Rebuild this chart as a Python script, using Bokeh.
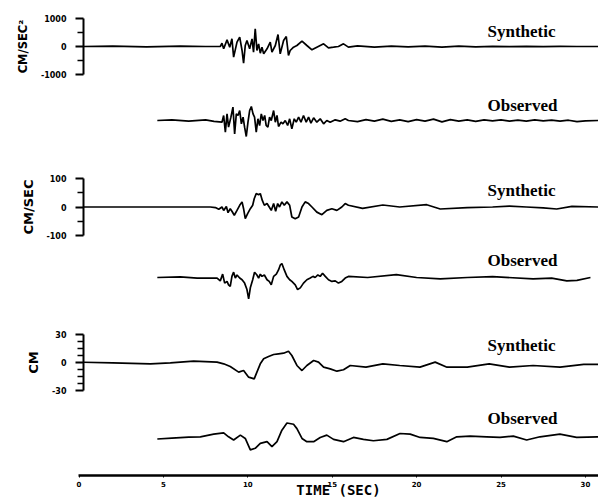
from bokeh.plotting import figure
from bokeh.layouts import column
from bokeh.models import Range1d, FixedTicker, Label
from bokeh.embed import file_html
from bokeh.resources import INLINE

# ---------------- data (time in s, amplitude in physical units) ----------------
accel_syn_t = [0.2, 2.0, 4.0, 6.0, 7.5, 8.37, 8.47, 8.57, 8.77, 8.93, 9.06, 9.16, 9.36, 9.52, 9.66,
               9.75, 9.85, 9.95, 10.11, 10.25, 10.34, 10.44, 10.54, 10.64, 10.74, 10.84, 10.94, 11.14,
               11.33, 11.43, 11.63, 11.79, 11.92, 12.12, 12.28, 12.41, 12.51, 12.71, 12.91, 13.21,
               13.50, 13.80, 14.09, 14.49, 14.78, 15.08, 15.37, 15.67, 15.96, 16.5, 17.5, 18.5, 19.5,
               20.5, 21.5, 22.5, 23.5, 24.5, 25.5, 26.5, 27.5, 28.5, 29.5, 30.8]
accel_syn_v = [0, 10, -10, 10, 0, 0, 119, -83, 238, -24, 274, -381, 155, 333, -143,
               -595, 36, 214, -83, 274, -202, 631, -143, 95, -238, -24, -262, -83,
               155, -202, 36, 428, -262, 214, 357, -321, -143, -24, 36, 190,
               36, -119, -24, 95, -48, -24, 0, 95, -24, 20, -20, 10, -10,
               15, -25, 10, -10, 5, -5, 5, -5, 5, 0, 0]

accel_obs_t = [4.64, 5.5, 6.5, 7.5, 8.0, 8.47, 8.57, 8.67, 8.77, 8.86, 9.0, 9.12, 9.22, 9.32, 9.42,
               9.52, 9.62, 9.72, 9.81, 9.91, 10.01, 10.11, 10.21, 10.31, 10.40, 10.50, 10.60, 10.70,
               10.80, 10.90, 11.0, 11.09, 11.19, 11.29, 11.39, 11.53, 11.63, 11.73, 11.82, 11.97,
               12.08, 12.22, 12.36, 12.48, 12.61, 12.75, 12.87, 13.01, 13.15, 13.30, 13.46, 13.60,
               13.74, 13.90, 14.09, 14.29, 14.49, 14.68, 14.88, 15.18, 15.47, 15.77, 15.96,
               16.5, 17.0, 17.5, 18.0, 18.5, 19.0, 19.5, 20.0, 20.5, 21.0, 21.5, 22.0, 22.5, 23.0,
               23.5, 24.0, 24.5, 25.0, 25.5, 26.0, 26.5, 27.0, 27.5, 28.0, 28.5, 29.0, 29.5, 30.0, 30.8]
accel_obs_v = [0, 20, -20, 20, -30, -60, 179, -417, 238, -238, 119, 476, -476, 238, 179,
               357, -119, 119, -238, -571, -60, 357, 500, 238, 119, -417, 60, -179,
               238, 0, 179, -179, -238, 119, 0, 357, -60, 179, -214, -60,
               -119, 0, -179, 60, -298, 60, -60, 119, -60, 179, -60, 119,
               -95, 95, -60, 60, -119, 0, -60, 24, -24, 60, 0,
               -40, 30, -20, 50, -30, 20, -40, 30, -20, 50, -50, 30, -20, 20,
               -30, 20, -10, 20, -20, 10, -20, 20, -10, 10, -20, 10, -40, -10, 0]

vel_syn_t = [0.2, 3.0, 6.0, 7.78, 8.08, 8.28, 8.47, 8.57, 8.73, 8.83, 8.96, 9.06, 9.20, 9.36, 9.52,
             9.66, 9.75, 9.85, 9.99, 10.15, 10.29, 10.38, 10.50, 10.64, 10.74, 10.86, 10.98, 11.14,
             11.27, 11.39, 11.53, 11.65, 11.77, 11.88, 12.02, 12.16, 12.32, 12.48, 12.61, 12.81,
             13.01, 13.21, 13.40, 13.60, 13.80, 14.09, 14.39, 14.68, 14.98, 15.28, 15.57, 15.77,
             15.96, 16.8, 18.0, 19.0, 20.6, 21.4, 23.0, 24.5, 25.5, 26.5, 27.5, 28.3, 29.2, 30.8]
vel_syn_v = [0, 0, 0, 0, -2, -8, 0, -12, 2, -20, -6, -15, -29, -12, 6,
             18, -6, -41, -23, -6, 6, 29, 47, 43, 47, 23, 6, 12,
             0, -12, 12, -15, 12, 0, 18, 6, 18, 6, -35, -41,
             -35, 0, 18, 12, 0, -18, -27, -12, -6, -12, 0, 12,
             6, -5, 7, 0, 8, -7, -2, 0, 3, 0, -3, -7, 2, 0]

vel_obs_t = [4.64, 6.0, 7.0, 8.18, 8.37, 8.51, 8.63, 8.77, 8.86, 8.96, 9.06, 9.16, 9.26, 9.36, 9.52,
             9.66, 9.81, 9.95, 10.05, 10.15, 10.29, 10.40, 10.54, 10.64, 10.74, 10.84, 10.98, 11.14,
             11.27, 11.39, 11.53, 11.69, 11.82, 11.92, 12.02, 12.16, 12.32, 12.48, 12.61, 12.81,
             12.95, 13.11, 13.30, 13.50, 13.70, 13.86, 13.99, 14.15, 14.29, 14.43, 14.59, 14.78,
             14.98, 15.18, 15.37, 15.57, 15.77, 15.96, 17.1, 18.8, 20.0, 21.4, 23.0, 24.5, 26.9,
             28.0, 28.9, 29.5, 30.3]
vel_obs_v = [0, 2, -2, -2, -12, 12, -20, -14, -26, -32, 4, 19, -2, 9, -2,
             -8, -20, -43, -76, -37, -8, 19, 9, -2, 12, 4, 9, -8,
             -14, -26, 4, 12, 27, 44, 50, 27, 4, -8, -14, -26,
             -43, -37, -20, -8, -2, 4, 0, 9, 4, 15, 4, -8,
             -14, -12, -20, -14, -2, 4, 0, 10, 0, -5, 0, 3, -5,
             -2, -12, -10, 0]

disp_syn_t = [0.2, 2.0, 4.23, 5.41, 6.79, 8.18, 8.57, 8.96, 9.46, 9.75, 10.05, 10.38, 10.54, 10.74,
              10.94, 11.23, 11.53, 11.82, 12.12, 12.41, 12.61, 12.91, 13.21, 13.50, 13.90, 14.19,
              14.49, 14.88, 15.28, 15.67, 16.07, 17.0, 18.0, 19.0, 20.2, 21.1, 21.8, 23.0, 24.3,
              25.5, 26.9, 28.5, 29.9, 30.8]
disp_syn_v = [0.3, -0.5, -1.4, -0.4, 1.4, 0.4, -1.4, -4.3, -10.3, -8.6, -15.7, -17.5, -10.3, -1.4,
              4.0, 6.4, 8.6, 9.3, 10.0, 12.1, 7.5, -3.2, -8.6, -3.2, 2.1, 0.4,
              -5.0, -6.8, -9.3, -7.8, -3.2, -5, -1.4, -3.2, -5, 0.4, -5, -5, -1.4,
              -5, -3.2, -5, -2, -2]

disp_obs_t = [4.64, 5.5, 6.5, 7.19, 7.98, 8.57, 8.86, 9.16, 9.56, 9.85, 10.15, 10.44, 10.74, 11.14,
              11.43, 11.73, 12.02, 12.32, 12.71, 12.91, 13.21, 13.50, 13.90, 14.29, 14.68, 15.08,
              15.67, 16.26, 16.85, 17.44, 18.24, 19.02, 19.62, 20.21, 20.99, 21.79, 22.38, 23.17,
              24.15, 24.94, 25.73, 26.52, 27.31, 28.49, 29.48, 30.8]
disp_obs_v = [-1, 0, 1, 1.4, 4.3, 5.7, 1.4, -2.1, 3.2, -0.4, -12.8, -11.1, -5.7, -3.9,
              -9.3, -3.9, 8.6, 16.4, 15.0, 10.3, -0.4, -3.9, -3.9, 0.7, 3.2, -1.4,
              -3.9, 0.7, -1.4, -2.9, -1.4, 5.0, 4.3, 0.7, -0.4, -3.9, 1.4, 2.1,
              1.4, 0.7, 2.1, -2.1, 1.4, 4.3, 0.7, 1.4]

time_ticks = [0, 5, 10, 15, 20, 25, 30]
trace_names = ["Synthetic", "Observed"]

# ---------------- layout helpers ----------------
W = 598
PX_PER_S = 16.88
T0_PX = 78.5          # pixel column of t = 0
LABEL_T = 24.2
TRACE_W = 1.7


def make_fig(height, top, bottom, yr, left_axis=False, bottom_axis=False):
    left = 78 if bottom_axis else 83
    x0 = (left - T0_PX) / PX_PER_S
    x1 = (W - T0_PX) / PX_PER_S
    p = figure(width=W, height=height, x_range=Range1d(x0, x1), y_range=Range1d(*yr),
               output_backend="svg", toolbar_location=None,
               x_axis_location="below" if bottom_axis else None,
               y_axis_location="left" if left_axis else None,
               min_border_left=left, min_border_right=0,
               min_border_top=top, min_border_bottom=bottom,
               frame_align=False)
    p.outline_line_color = None
    p.background_fill_color = "white"
    p.border_fill_color = "white"
    for g in p.grid:
        g.visible = False
    return p


def style_yaxis(p, lim, minors, labels, title, title_size, title_standoff):
    ax = p.yaxis[0]
    ax.ticker = FixedTicker(ticks=[-lim, 0, lim], minor_ticks=minors)
    ax.major_label_overrides = {-lim: labels[0], 0: labels[1], lim: labels[2]}
    ax.axis_line_color = "black"
    ax.axis_line_width = 2
    ax.major_tick_line_width = 2
    ax.minor_tick_line_width = 1.5
    ax.major_tick_out = 8
    ax.major_tick_in = 0
    ax.minor_tick_out = 6
    ax.minor_tick_in = 0
    ax.major_label_standoff = 9
    ax.major_label_text_font = "DejaVu Sans"
    ax.major_label_text_font_style = "bold"
    ax.major_label_text_font_size = "8px"
    ax.major_label_text_color = "black"
    ax.axis_label = title
    ax.axis_label_text_font = "DejaVu Sans"
    ax.axis_label_text_font_style = "bold"
    ax.axis_label_text_font_size = title_size
    ax.axis_label_text_color = "black"
    ax.axis_label_standoff = title_standoff


def add_name(p, y, text):
    p.add_layout(Label(x=LABEL_T, y=y, text=text, text_align="left", text_baseline="middle",
                       text_font="Liberation Serif", text_font_style="bold",
                       text_font_size="17px", text_color="black"))


# acceleration
p1 = make_fig(82, 18, 8, (-1000, 1000), left_axis=True)
p1.line(accel_syn_t, accel_syn_v, line_color="black", line_width=TRACE_W)
style_yaxis(p1, 1000, [-500, 500], ["-1000", "0", "1000"], "CM/SEC²", "11.5px", 8)
add_name(p1, 540, trace_names[0])

p2 = make_fig(74, 10, 8, (-1000, 1000))
p2.line(accel_obs_t, accel_obs_v, line_color="black", line_width=TRACE_W)
add_name(p2, 540, trace_names[1])

# velocity
p3 = make_fig(87, 22, 8, (-100, 100), left_axis=True)
p3.line(vel_syn_t, vel_syn_v, line_color="black", line_width=TRACE_W)
style_yaxis(p3, 100, [-50, 50], ["-100", "0", "100"], "CM/SEC", "13px", 7)
add_name(p3, 58, trace_names[0])

p4 = make_fig(70, 6, 8, (-100, 100))
p4.line(vel_obs_t, vel_obs_v, line_color="black", line_width=TRACE_W)
add_name(p4, 60, trace_names[1])

# displacement
p5 = make_fig(85, 21, 8, (-30, 30), left_axis=True)
p5.line(disp_syn_t, disp_syn_v, line_color="black", line_width=TRACE_W)
style_yaxis(p5, 30, [-22.5, -15, -7.5, 7.5, 15, 22.5], ["-30", "0", "30"], "CM", "13px", 8)
add_name(p5, 18, trace_names[0])

p6 = make_fig(102, 12, 24, (-40.7, 30), bottom_axis=True)
p6.line(disp_obs_t, disp_obs_v, line_color="black", line_width=TRACE_W)
add_name(p6, 21, trace_names[1])
xa = p6.xaxis[0]
xa.ticker = FixedTicker(ticks=time_ticks)
xa.axis_line_color = "black"
xa.axis_line_width = 2.5
xa.major_tick_out = 2
xa.major_tick_in = 0
xa.minor_tick_out = 0
xa.major_label_standoff = 3
xa.major_label_text_font = "DejaVu Sans"
xa.major_label_text_font_style = "bold"
xa.major_label_text_font_size = "7px"
xa.major_label_text_color = "black"
xa.axis_label = "TIME (SEC)"
xa.axis_label_text_font = "DejaVu Sans Mono"
xa.axis_label_text_font_style = "bold"
xa.axis_label_text_font_size = "14px"
xa.axis_label_text_color = "black"
xa.axis_label_standoff = -8

layout = column(p1, p2, p3, p4, p5, p6, spacing=0)
open("out.html", "w").write(file_html(layout, INLINE))
